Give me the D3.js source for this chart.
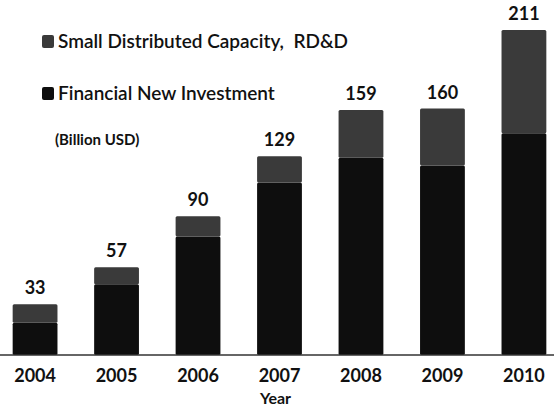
<!DOCTYPE html>
<html>
<head>
<meta charset="utf-8">
<script src="https://cdn.jsdelivr.net/npm/d3@7"></script>
<style>
  body { margin: 0; background: #fff; }
  svg { display: block; font-family: Lato, "Open Sans", sans-serif; }
</style>
</head>
<body>
<svg id="chart" width="554" height="407"></svg>
<script>
// data (billion USD)
const years = ['2004', '2005', '2006', '2007', '2008', '2009', '2010'];
const financialNew = [21, 46, 77, 112, 128, 123, 144];
const smallRdd = [12, 11, 13, 17, 31, 37, 67];
const totals = [33, 57, 90, 129, 159, 160, 211];
const seriesNames = ['Small Distributed Capacity,  RD&D', 'Financial New Investment'];
const unitLabel = '(Billion USD)';
const axisTitle = 'Year';

const svg = d3.select('#chart');
const width = +svg.attr('width');

const colors = { bottom: '#0e0e0e', top: '#3a3a3a' };

const x = d3.scaleBand()
  .domain(years)
  .range([-24, 583])
  .padding(0.45);

const y = d3.scaleLinear()
  .domain([0, 211])
  .range([355, 30]);

// stack the two series
const rows = years.map((yr, i) => ({ year: yr, financial: financialNew[i], small: smallRdd[i] }));
const stack = d3.stack().keys(['financial', 'small'])(rows);

svg.append('g')
  .selectAll('g')
  .data(stack)
  .join('g')
  .attr('fill', d => d.key === 'financial' ? colors.bottom : colors.top)
  .selectAll('rect')
  .data(d => d)
  .join('rect')
  .attr('x', d => x(d.data.year))
  .attr('width', x.bandwidth())
  .attr('y', d => y(d[1]))
  .attr('height', d => y(d[0]) - y(d[1]))
  .attr('rx', 1.5);

// total labels
svg.append('g')
  .selectAll('text')
  .data(years)
  .join('text')
  .attr('x', d => x(d) + x.bandwidth() / 2)
  .attr('y', (d, i) => y(totals[i]) - 10)
  .attr('text-anchor', 'middle')
  .attr('font-size', 18)
  .attr('font-weight', 'bold')
  .attr('fill', '#111')
  .text((d, i) => totals[i]);

// baseline + year labels
const xAxis = svg.append('g')
  .attr('transform', `translate(0,${y(0)})`)
  .call(d3.axisBottom(x).tickSize(0).tickPadding(14));
xAxis.select('.domain').remove();
xAxis.append('line')
  .attr('x1', 0).attr('x2', width)
  .attr('stroke', '#333').attr('stroke-width', 1.5);
xAxis.selectAll('.tick text')
  .attr('font-family', 'Lato, sans-serif')
  .attr('font-size', 18)
  .attr('font-weight', 'bold')
  .attr('fill', '#111');

svg.append('text')
  .attr('x', x('2007') + x.bandwidth() / 2 - 4)
  .attr('y', 404)
  .attr('text-anchor', 'middle')
  .attr('font-size', 16)
  .attr('font-weight', 'bold')
  .attr('fill', '#111')
  .text(axisTitle);

// legend
const legend = svg.append('g');
const legendRows = [
  { name: seriesNames[0], color: colors.top, y: 35 },
  { name: seriesNames[1], color: colors.bottom, y: 87 }
];
legend.selectAll('rect')
  .data(legendRows)
  .join('rect')
  .attr('x', 42).attr('y', d => d.y)
  .attr('width', 12).attr('height', 13)
  .attr('rx', 2)
  .attr('fill', d => d.color);
legend.selectAll('text')
  .data(legendRows)
  .join('text')
  .attr('x', 58).attr('y', d => d.y + 13)
  .attr('font-size', 19)
  .attr('font-weight', 600)
  .attr('fill', '#111')
  .attr('xml:space', 'preserve')
  .style('white-space', 'pre')
  .text(d => d.name);

svg.append('text')
  .attr('x', 55).attr('y', 145)
  .attr('font-size', 15)
  .attr('font-weight', 'bold')
  .attr('fill', '#111')
  .text(unitLabel);
</script>
</body>
</html>
